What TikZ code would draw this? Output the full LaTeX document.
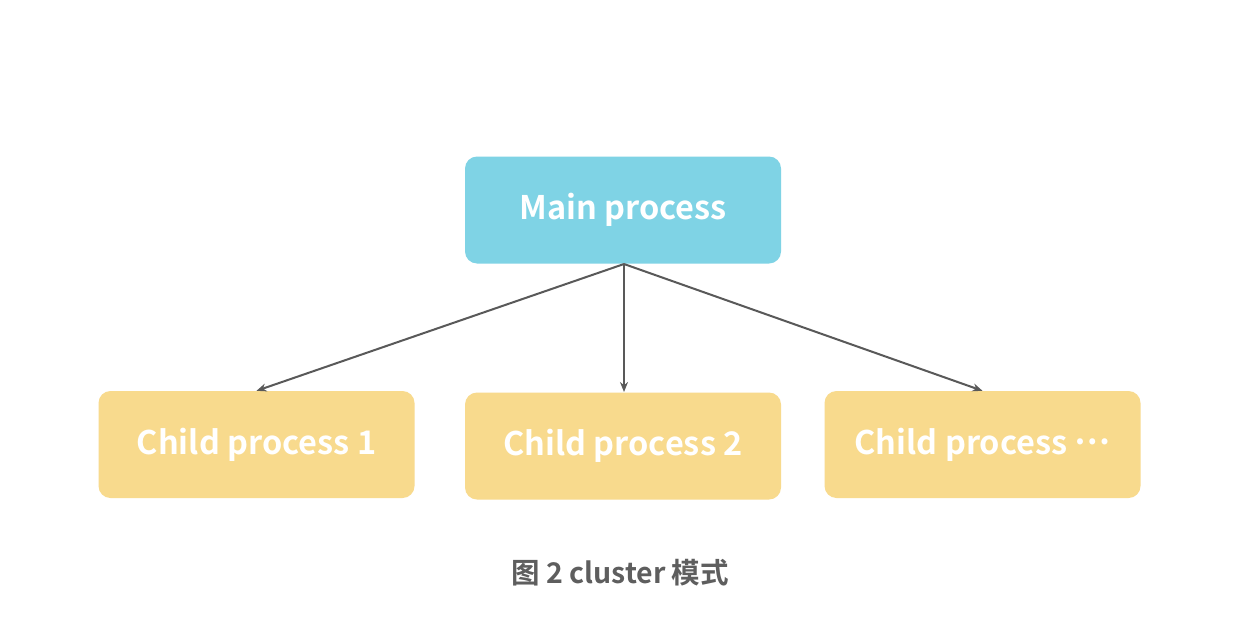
\documentclass[tikz,border=0pt]{standalone}
\usepackage{fontspec}
\setmainfont{Noto Sans CJK SC}[BoldFont={* Bold}]
\newfontfamily\cjkb{Noto Sans CJK SC Bold}
\usetikzlibrary{arrows.meta}
\definecolor{mainfill}{HTML}{7FD3E5}
\definecolor{childfill}{HTML}{F8DA8D}
\definecolor{linegray}{HTML}{595959}
\definecolor{capgray}{HTML}{5E5E5E}
\tikzset{
  box/.style={rounded corners=12pt, draw=none, minimum width=316pt, minimum height=107pt, inner sep=0pt, text=white, font=\cjkb\fontsize{32.5}{38}\selectfont},
  mainbox/.style={box, fill=mainfill},
  childbox/.style={box, fill=childfill},
  conn/.style={draw=linegray, line width=2pt, -{Stealth[length=10pt,width=8pt]}},
}
\begin{document}
\begin{tikzpicture}[x=1pt,y=-1pt]
\useasboundingbox (0,0) rectangle (1236,626);
\fill[white] (0,0) rectangle (1236,626);
\node[mainbox] (main) at (623,210) {Main process};
\node[childbox] (c1) at (256.5,444.5) {Child process 1};
\node[childbox] (c2) at (623,446) {Child process 2};
\node[childbox] (c3) at (982.5,444.5) {Child process \raisebox{0.3em}{…}};
\coordinate (src) at (624,264);
\coordinate (c2top) at (624,392);
\draw[conn] (src) -- (c1.north);
\draw[conn] (src) -- (c2top);
\draw[conn] (src) -- (c3.north);
\node[font=\cjkb\fontsize{28.5}{34}\selectfont, text=capgray] (cap) at (620,573) {图 2 cluster 模式};
\end{tikzpicture}
\end{document}
